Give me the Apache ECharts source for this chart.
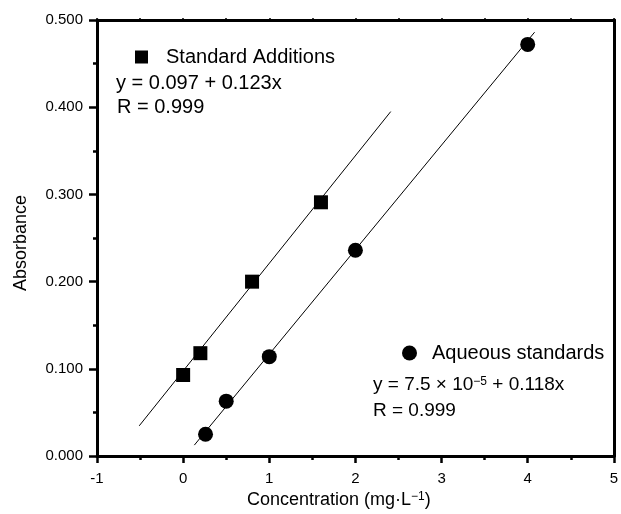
<!DOCTYPE html>
<html>
<head>
<meta charset="utf-8">
<script src="https://cdn.jsdelivr.net/npm/echarts@6/dist/echarts.min.js"></script>
<style>
html,body{margin:0;padding:0;background:#fff;}
#chart{width:621px;height:514px;}
</style>
</head>
<body>
<div id="chart"></div>
<script>
// ---- data ----
const stdAddX = [0.0, 0.2, 0.8, 1.6];
const stdAddY = [0.093, 0.118, 0.200, 0.291];
const aqX = [0.26, 0.5, 1.0, 2.0, 4.0];
const aqY = [0.025, 0.063, 0.114, 0.236, 0.472];
const stdFitX = [-0.51, 2.41];
const stdFitY = [0.0347, 0.395];
const aqFitX = [0.13, 4.08];
const aqFitY = [0.0126, 0.486];
const xTicks = [-1, 0, 1, 2, 3, 4, 5];
const yTicks = [0.0, 0.1, 0.2, 0.3, 0.4, 0.5];
const seriesNames = ['Standard Additions', 'Aqueous standards'];

const FONT = "'Liberation Sans', Arial, sans-serif";
const pairs = (xs, ys) => xs.map((x, i) => [x, ys[i]]);

const chart = echarts.init(document.getElementById('chart'), null, {renderer: 'canvas'});

const baseX = {
  type: 'value', min: xTicks[0], max: xTicks[xTicks.length - 1], interval: 1,
  splitLine: {show: false},
  axisLine: {show: true, onZero: false, lineStyle: {color: '#000', width: 3}},
};
const baseY = {
  type: 'value', min: yTicks[0], max: yTicks[yTicks.length - 1], interval: 0.1,
  splitLine: {show: false},
  axisLine: {show: true, onZero: false, lineStyle: {color: '#000', width: 3}},
};

const option = {
  backgroundColor: '#fff',
  animation: false,
  grid: {left: 97, right: 7, top: 20, bottom: 57, containLabel: false},
  xAxis: [
    Object.assign({}, baseX, {
      position: 'bottom',
      name: '{n|Concentration (mg·L}{s|−1}{n|)}',
      nameLocation: 'middle', nameGap: 30,
      nameTextStyle: {padding: [0, 33, 0, 0],
        rich: {n: {fontSize: 18, fontFamily: FONT, color: '#000'},
               s: {fontSize: 12, fontFamily: FONT, color: '#000', verticalAlign: 'top'}}},
      axisTick: {show: true, length: 7, lineStyle: {color: '#000', width: 2.5}},
      minorTick: {show: true, splitNumber: 2, length: 4, lineStyle: {color: '#000', width: 2.5}},
      axisLabel: {color: '#000', fontSize: 15, fontFamily: FONT, margin: 15,
        formatter: v => String(v)}
    }),
    Object.assign({}, baseX, {
      position: 'top',
      axisTick: {show: true, length: 2, lineStyle: {color: '#000', width: 1.5}},
      minorTick: {show: true, splitNumber: 2, length: 2, lineStyle: {color: '#000', width: 1.5}},
      axisLabel: {show: false}
    })
  ],
  yAxis: [
    Object.assign({}, baseY, {
      position: 'left',
      name: 'Absorbance', nameLocation: 'middle', nameGap: 67,
      nameTextStyle: {fontSize: 18, fontFamily: FONT, color: '#000', padding: [0, 10, 0, 0]},
      axisTick: {show: true, length: 8, lineStyle: {color: '#000', width: 2.5}},
      minorTick: {show: true, splitNumber: 2, length: 4, lineStyle: {color: '#000', width: 2.5}},
      axisLabel: {color: '#000', fontSize: 15, fontFamily: FONT, margin: 14,
        formatter: v => v.toFixed(3)}
    }),
    Object.assign({}, baseY, {
      position: 'right',
      axisTick: {show: true, length: 2, lineStyle: {color: '#000', width: 1.5}},
      minorTick: {show: true, splitNumber: 2, length: 2, lineStyle: {color: '#000', width: 1.5}},
      axisLabel: {show: false}
    })
  ],
  legend: [
    {data: [{name: seriesNames[0], icon: 'rect'}], left: 135, top: 47, padding: 0,
     itemWidth: 13, itemHeight: 13,
     textStyle: {fontSize: 20, fontFamily: FONT, color: '#000', padding: [0, 0, 0, 13]}},
    {data: [{name: seriesNames[1], icon: 'circle'}], left: 402, top: 343, padding: 0,
     itemWidth: 15, itemHeight: 15,
     textStyle: {fontSize: 20, fontFamily: FONT, color: '#000', padding: [0, 0, 0, 10]}}
  ],
  graphic: [
    {type: 'text', x: 116, y: 83, silent: true,
     style: {text: 'y = 0.097 + 0.123x', fontSize: 20, fontFamily: FONT, fill: '#000', verticalAlign: 'middle'}},
    {type: 'text', x: 117, y: 107, silent: true,
     style: {text: 'R = 0.999', fontSize: 20, fontFamily: FONT, fill: '#000', verticalAlign: 'middle'}},
    {type: 'text', x: 373, y: 385, silent: true,
     style: {text: '{n|y = 7.5 × 10}{s|−5}{n| + 0.118x}', verticalAlign: 'middle',
       rich: {n: {fontSize: 19, fontFamily: FONT, fill: '#000'},
              s: {fontSize: 12, fontFamily: FONT, fill: '#000', verticalAlign: 'top'}}}},
    {type: 'text', x: 373, y: 411, silent: true,
     style: {text: 'R = 0.999', fontSize: 19, fontFamily: FONT, fill: '#000', verticalAlign: 'middle'}}
  ],
  series: [
    {name: 'stdFit', type: 'line', data: pairs(stdFitX, stdFitY), showSymbol: false, symbol: 'none',
     lineStyle: {color: '#000', width: 1}, silent: true, z: 1},
    {name: 'aqFit', type: 'line', data: pairs(aqFitX, aqFitY), showSymbol: false, symbol: 'none',
     lineStyle: {color: '#000', width: 1}, silent: true, z: 1},
    {name: seriesNames[0], type: 'scatter', data: pairs(stdAddX, stdAddY), symbol: 'rect', symbolSize: 14,
     itemStyle: {color: '#000', opacity: 1}, z: 3},
    {name: seriesNames[1], type: 'scatter', data: pairs(aqX, aqY), symbol: 'circle', symbolSize: 15,
     itemStyle: {color: '#000', opacity: 1}, z: 3}
  ]
};
chart.setOption(option);
</script>
</body>
</html>
